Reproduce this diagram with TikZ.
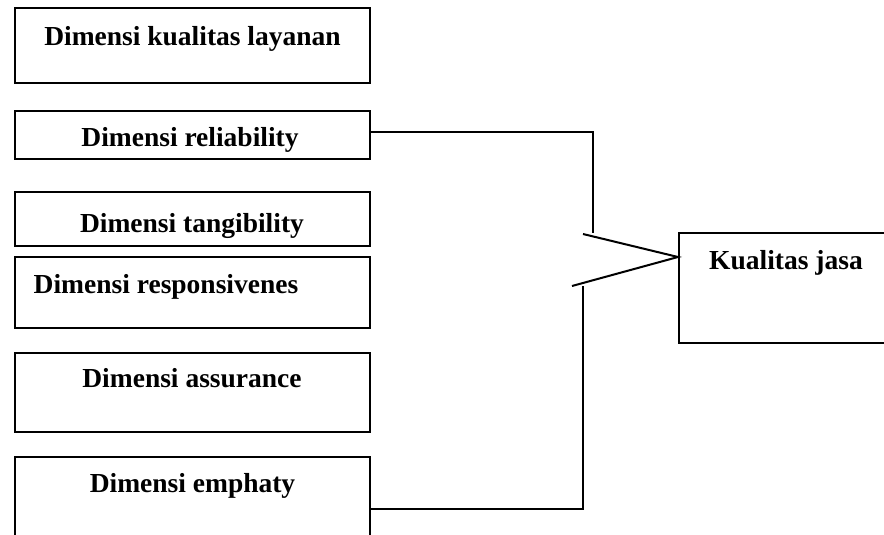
\documentclass[tikz,border=0pt]{standalone}
\usepackage{fontspec}
\setmainfont{Liberation Serif}
\begin{document}
\begin{tikzpicture}[x=0.5pt,y=-0.5pt,
  box/.style={draw, line width=1pt, rectangle, inner sep=0pt, minimum width=177.75pt},
  lbl/.style={anchor=base, inner sep=0pt, font=\fontsize{13.75}{16}\selectfont\bfseries},
  conn/.style={line width=1pt}]
\useasboundingbox (0,0) rectangle (884,535);
\node[box, minimum height=37.5pt] (b1) at (192.5,45.5) {};
\node[box, minimum height=24pt] (b2) at (192.5,135) {};
\node[box, minimum height=27pt] (b3) at (192.5,219) {};
\node[box, minimum height=35.75pt] (b4) at (192.5,292.25) {};
\node[box, minimum height=39.5pt] (b5) at (192.5,392.5) {};
\node[box, minimum height=54pt] (b6) at (192.5,511) {};
\node[box, minimum width=110.5pt, minimum height=55pt] (kj) at (789.5,288) {};
\node[lbl] (t1) at (192.5,46) {Dimensi kualitas layanan};
\node[lbl] (t2) at (190,147) {Dimensi reliability};
\node[lbl] (t3) at (192,233) {Dimensi tangibility};
\node[lbl] (t4) at (166,293) {Dimensi responsivenes};
\node[lbl] (t5) at (192,387) {Dimensi assurance};
\node[lbl] (t6) at (192.5,492) {Dimensi emphaty};
\node[lbl] (t7) at (786,270) {Kualitas jasa};
\coordinate (tip) at (kj.west |- 0,257);
\coordinate (c1) at (593,132);
\coordinate (c2) at (593,233);
\coordinate (c3) at (583,234);
\coordinate (c4) at (572,286);
\coordinate (c5) at (583,286);
\coordinate (c6) at (583,509);
\draw[conn] (b2.east |- c1) -- (c1) -- (c2);
\draw[conn] (c3) -- (tip) -- (c4);
\draw[conn] (c5) -- (c6) -- (b6.east |- c6);
\end{tikzpicture}
\end{document}
